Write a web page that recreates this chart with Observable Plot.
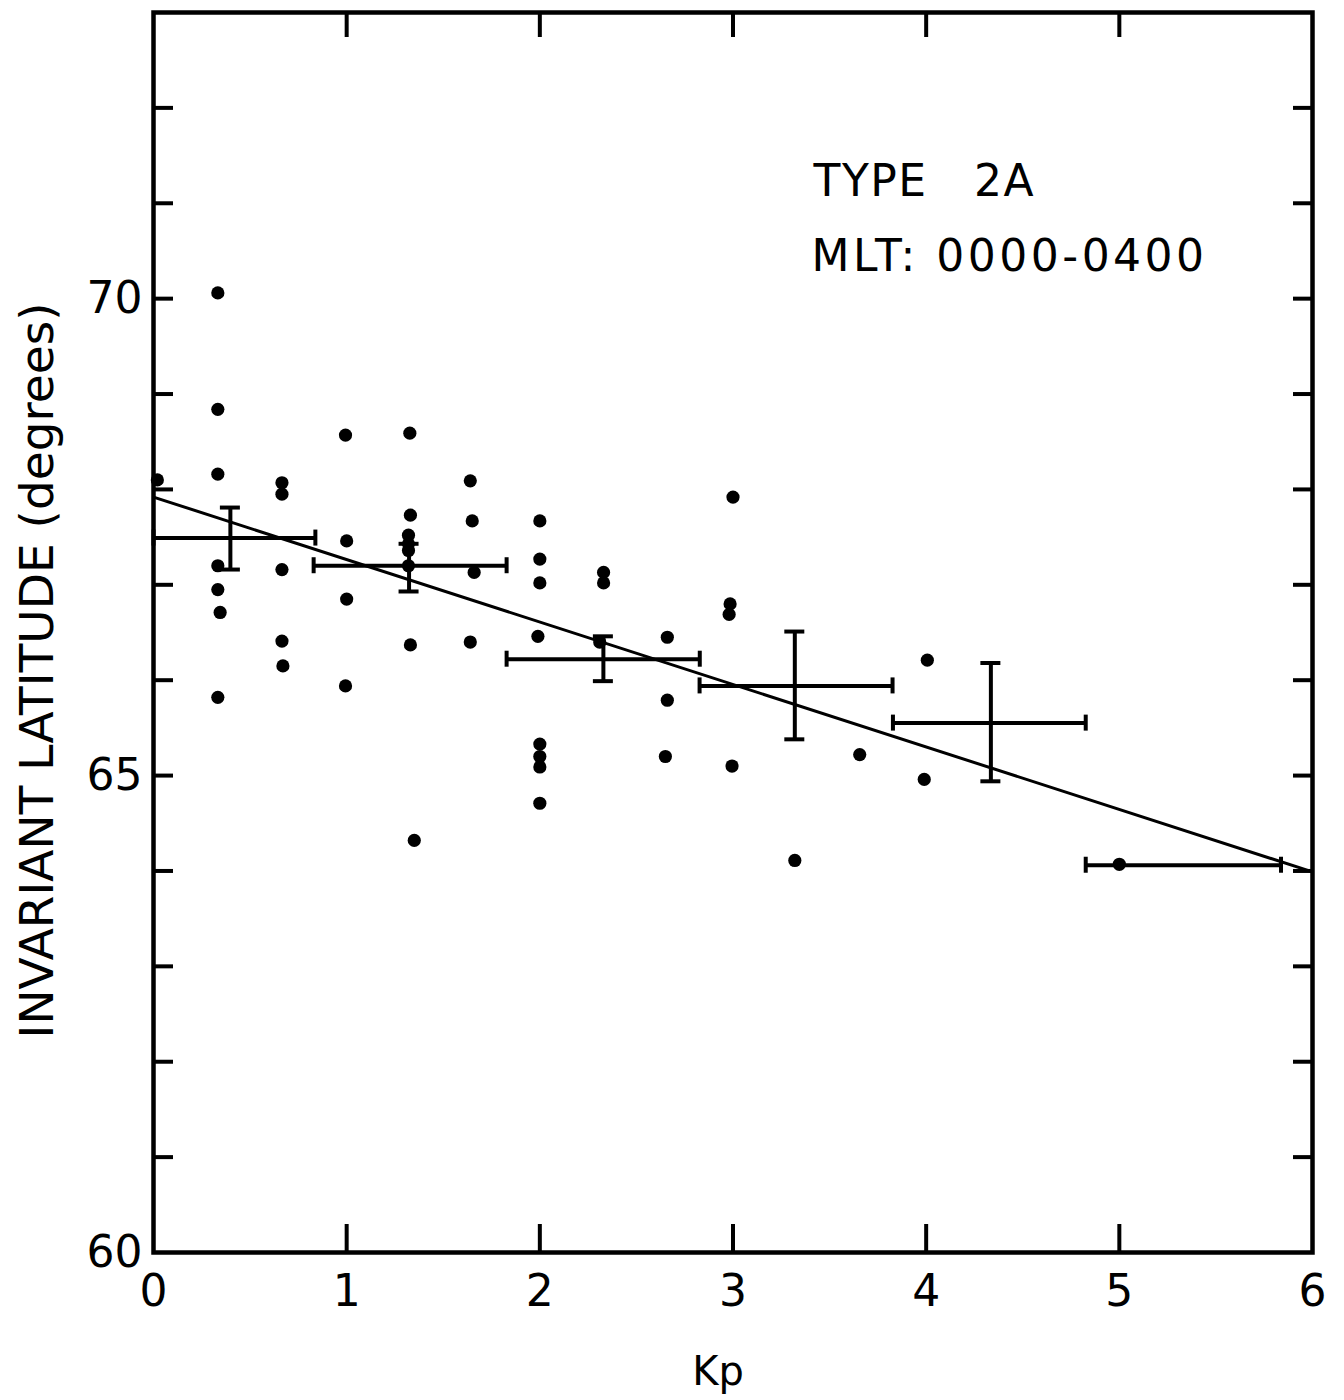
<!DOCTYPE html>
<html>
<head>
<meta charset="utf-8">
<script src="https://cdn.jsdelivr.net/npm/d3@7"></script>
<script src="https://cdn.jsdelivr.net/npm/@observablehq/plot@0.6"></script>
<style>
  html, body { margin: 0; padding: 0; background: #fff; }
  #chart svg { font-family: "DejaVu Sans", sans-serif; background: #fff; }
</style>
</head>
<body>
<div id="chart"></div>
<script>
// ---- Individual events (Kp, invariant latitude in degrees) ----
const eventKp = [
  0.02,
  0.333, 0.333, 0.333, 0.333, 0.333, 0.345, 0.333,
  0.665, 0.665, 0.665, 0.665, 0.67,
  0.994, 1.0, 1.0, 0.994,
  1.327, 1.33, 1.32, 1.32, 1.32, 1.32, 1.33, 1.35,
  1.64, 1.65, 1.66, 1.64,
  2.0, 2.0, 2.0, 1.99, 2.0, 2.0, 2.0, 2.0,
  2.33, 2.33, 2.31,
  2.66, 2.66, 2.65,
  3.0, 2.985, 2.98, 2.995,
  3.32, 3.656, 4.006, 3.99, 5.0
];
const eventLat = [
  68.10,
  70.06, 68.84, 68.16, 67.20, 66.95, 66.71, 65.82,
  68.07, 67.95, 67.16, 66.41, 66.15,
  68.57, 67.46, 66.85, 65.94,
  68.59, 67.73, 67.52, 67.43, 67.36, 67.20, 66.37, 64.32,
  68.09, 67.67, 67.13, 66.40,
  67.67, 67.27, 67.02, 66.46, 65.33, 65.20, 65.09, 64.71,
  67.13, 67.02, 66.40,
  66.45, 65.79, 65.20,
  67.92, 66.80, 66.69, 65.10,
  64.11, 65.22, 66.21, 64.96, 64.07
];

// ---- Bin means with error bars ----
const binKp    = [0.398, 1.323, 2.329, 3.320, 4.335, 5.000];
const binLat   = [67.49, 67.20, 66.22, 65.94, 65.55, 64.06];
const binKpLo  = [0.000, 0.829, 1.828, 2.827, 3.828, 4.826];
const binKpHi  = [0.838, 1.828, 2.828, 3.826, 4.826, 5.837];
const binLatLo = [67.16, 66.93, 65.99, 65.38, 64.94, null];
const binLatHi = [67.81, 67.43, 66.46, 66.51, 66.18, null];

// ---- Least-squares fit line ----
const fitKp  = [0, 6];
const fitLat = [67.92, 63.99];

// ---- Axes ----
const xTickValues = [0, 1, 2, 3, 4, 5, 6];
const xTickLabels = ["0", "1", "2", "3", "4", "5", "6"];
const xInnerTicks = [1, 2, 3, 4, 5];
const yInnerTicks = [61, 62, 63, 64, 65, 66, 67, 68, 69, 70, 71, 72];
const yLabelValues = [60, 65, 70];
const yLabelText = ["60", "65", "70"];
const xAxisTitle = ["Kp"];
const yAxisTitle = ["INVARIANT LATITUDE (degrees)"];
const annotation1 = ["TYPE\u00a0\u00a0\u00a02A"];
const annotation2 = ["MLT: 0000-0400"];

// ---- Build tables ----
const events = eventKp.map((k, i) => ({kp: k, lat: eventLat[i]}));
const bins = binKp.map((k, i) => ({
  kp: k, lat: binLat[i], kpLo: binKpLo[i], kpHi: binKpHi[i],
  latLo: binLatLo[i], latHi: binLatHi[i]
}));
const vbins = bins.filter(d => d.latLo != null);
const fit = fitKp.map((k, i) => ({kp: k, lat: fitLat[i]}));

const SW = 4;
const chart = Plot.plot({
  width: 1344,
  height: 1400,
  marginLeft: 153,
  marginRight: 32,
  marginTop: 12,
  marginBottom: 148,
  x: {domain: [0, 6]},
  y: {domain: [60, 73]},
  marks: [
    // regression line
    Plot.line(fit, {x: "kp", y: "lat", stroke: "black", strokeWidth: 3}),
    // horizontal bars (bin width)
    Plot.ruleY(bins, {y: "lat", x1: "kpLo", x2: "kpHi", stroke: "black", strokeWidth: SW}),
    // horizontal bar end caps
    Plot.ruleX(bins, {x: "kpLo", y1: "lat", y2: "lat", insetTop: -8, insetBottom: -8, stroke: "black", strokeWidth: SW}),
    Plot.ruleX(bins, {x: "kpHi", y1: "lat", y2: "lat", insetTop: -8, insetBottom: -8, stroke: "black", strokeWidth: SW}),
    // vertical error bars
    Plot.ruleX(vbins, {x: "kp", y1: "latLo", y2: "latHi", stroke: "black", strokeWidth: SW}),
    Plot.ruleY(vbins, {y: "latLo", x1: "kp", x2: "kp", insetLeft: -10, insetRight: -10, stroke: "black", strokeWidth: SW}),
    Plot.ruleY(vbins, {y: "latHi", x1: "kp", x2: "kp", insetLeft: -10, insetRight: -10, stroke: "black", strokeWidth: SW}),
    // events
    Plot.dot(events, {x: "kp", y: "lat", r: 6.6, fill: "black", stroke: "none"}),

    // inward ticks on all four sides
    Plot.axisX(xInnerTicks, {anchor: "bottom", tickSize: 28, dy: -28, tickFormat: () => "", label: null, strokeWidth: SW}),
    Plot.axisX(xInnerTicks, {anchor: "top", tickSize: 24, dy: 24, tickFormat: () => "", label: null, strokeWidth: SW}),
    Plot.axisY(yInnerTicks, {anchor: "left", tickSize: 20, dx: 20, tickFormat: () => "", label: null, strokeWidth: SW}),
    Plot.axisY(yInnerTicks, {anchor: "right", tickSize: 20, dx: -20, tickFormat: () => "", label: null, strokeWidth: SW}),

    // tick labels
    Plot.axisX(xTickValues, {anchor: "bottom", tickSize: 0, tickPadding: 22, fontSize: 44, label: null,
      tickFormat: d => xTickLabels[xTickValues.indexOf(d)]}),
    Plot.axisY(yLabelValues, {anchor: "left", tickSize: 0, tickPadding: 11, fontSize: 44, label: null,
      tickFormat: d => yLabelText[yLabelValues.indexOf(d)]}),

    // frame
    Plot.frame({stroke: "black", strokeWidth: 4.5}),

    // axis titles
    Plot.text(yAxisTitle, {text: d => d, frameAnchor: "left", rotate: -90, dx: -116, dy: 38,
      fontSize: 47, textAnchor: "middle", lineAnchor: "middle", fill: "black"}),
    Plot.text(xAxisTitle, {text: d => d, frameAnchor: "bottom", dx: -15, dy: 120,
      fontSize: 40, textAnchor: "middle", lineAnchor: "middle", fill: "black"}),

    // annotations
    Plot.text(annotation1, {text: d => d, frameAnchor: "top-left", dx: 660, dy: 169,
      fontSize: 44, textAnchor: "start", lineAnchor: "middle", fill: "black"}),
    Plot.text(annotation2, {text: d => d, frameAnchor: "top-left", dx: 658, dy: 244,
      fontSize: 44, textAnchor: "start", lineAnchor: "middle", fill: "black"})
  ]
});

chart.querySelectorAll("text").forEach(t => {
  if (t.textContent === annotation1[0]) t.setAttribute("letter-spacing", "1.5");
  if (t.textContent === annotation2[0]) t.setAttribute("letter-spacing", "3.5");
});
document.getElementById("chart").appendChild(chart);
</script>
</body>
</html>
